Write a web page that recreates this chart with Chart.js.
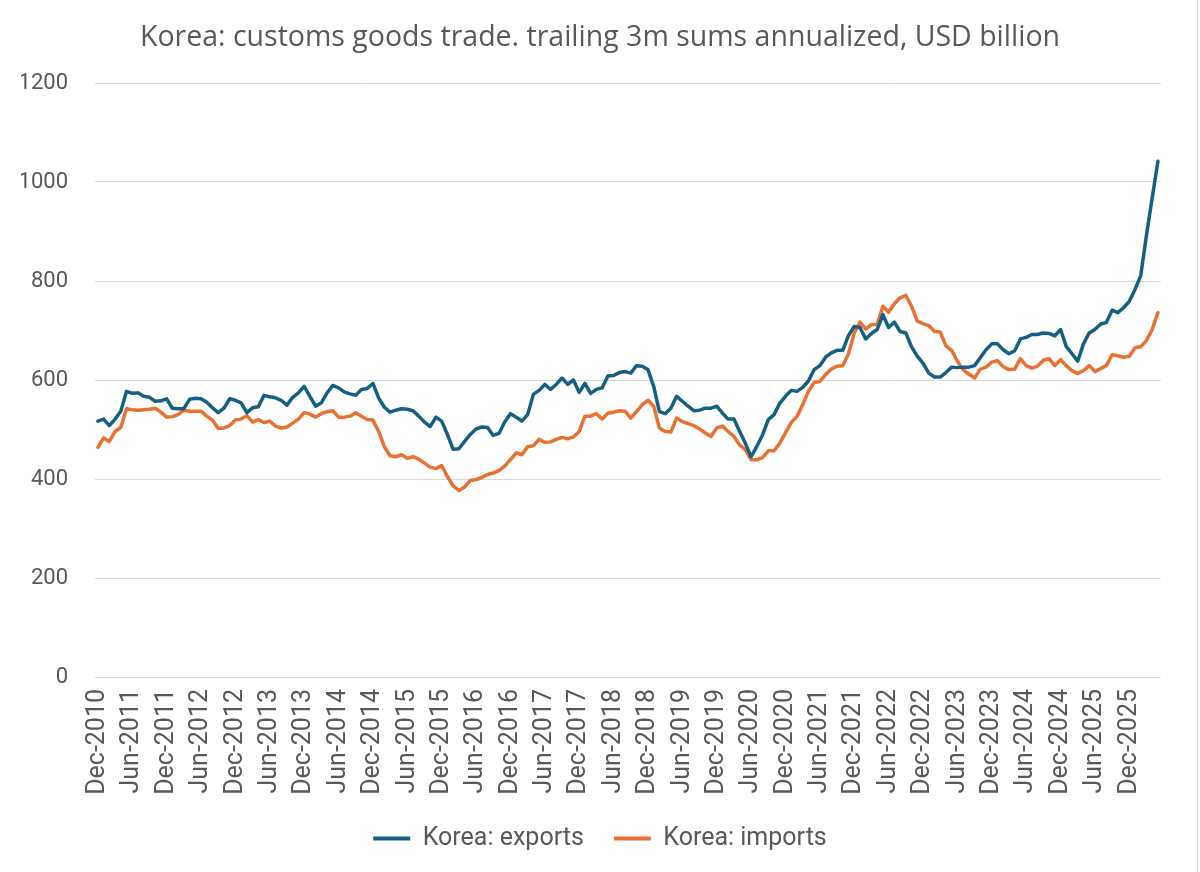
<!DOCTYPE html>
<html><head><meta charset="utf-8">
<script src="https://cdn.jsdelivr.net/npm/chart.js@4"></script>
<style>html,body{margin:0;padding:0;background:#fff;}canvas{display:block;}</style>
</head><body>
<canvas id="c" width="1200" height="872"></canvas>
<script>
const startYear = 2010;
const startMonthIndex = 11; // December
const monthNames = ['Jan','Feb','Mar','Apr','May','Jun','Jul','Aug','Sep','Oct','Nov','Dec'];
const chartTitle = 'Korea: customs goods trade. trailing 3m sums annualized, USD billion';
const seriesNames = ['Korea: exports', 'Korea: imports'];

const exportsValues = [
517,521,508,521,537,577,573,574,567,565,557,558,562,543,542,542,561,563,562,555,
544,534,543,562,559,554,534,544,546,569,566,564,559,549,565,574,587,567,547,554,
574,589,584,576,572,569,581,583,593,564,545,535,539,542,541,538,527,515,506,525,
517,490,460,461,476,490,501,505,504,488,492,515,532,525,517,530,571,579,591,581,
591,604,591,600,575,593,573,581,584,608,609,615,617,614,629,628,621,587,536,532,
543,567,557,547,538,539,543,543,547,533,521,521,496,472,445,466,489,520,530,553,
567,579,577,585,598,621,629,646,655,660,660,690,708,706,683,694,702,732,706,717,
698,695,667,648,634,614,606,606,615,626,625,626,626,629,645,661,673,673,661,653,
659,683,686,692,692,695,694,689,702,668,653,638,673,695,702,713,716,741,736,746,
759,783,811,893,968,1042
];
const importsValues = [
464,483,476,496,504,542,540,539,540,541,543,535,525,526,530,539,537,537,537,527,
519,502,503,508,519,521,528,515,520,514,517,507,503,505,513,521,534,531,525,532,
536,538,525,525,527,534,527,520,519,496,465,447,445,449,442,445,440,432,424,421,
427,405,386,377,384,397,399,403,409,412,417,426,439,453,449,465,467,480,474,475,
480,484,481,485,496,527,527,532,521,533,535,538,537,523,536,550,559,547,503,496,
495,523,516,512,508,501,493,486,503,507,496,486,469,459,439,439,443,457,457,472,
493,514,526,550,577,595,597,611,622,628,629,653,695,717,703,712,712,749,737,754,
766,771,749,719,714,710,698,697,669,660,638,621,612,604,622,626,636,639,627,621,
622,643,629,624,628,640,643,629,641,629,619,613,619,629,617,623,629,651,649,646,
648,665,667,680,702,736
];
const yTickValues = [0, 200, 400, 600, 800, 1000, 1200];
const labelEvery = 6;

const categories = exportsValues.map((_, i) => {
  const k = startMonthIndex + i;
  return monthNames[k % 12] + '-' + (startYear + Math.floor(k / 12));
});

const textColor = '#595959';
const gridColor = '#d9d9d9';

const frame = {
  id: 'frame',
  beforeDraw(chart) {
    const ctx = chart.ctx;
    ctx.save();
    ctx.fillStyle = '#ffffff';
    ctx.fillRect(0, 0, chart.width, chart.height);
    ctx.strokeStyle = gridColor;
    ctx.lineWidth = 1;
    ctx.beginPath();
    ctx.moveTo(1197.5, 0);
    ctx.lineTo(1197.5, chart.height);
    ctx.stroke();
    ctx.restore();
  }
};

new Chart(document.getElementById('c'), {
  type: 'line',
  data: {
    labels: categories,
    datasets: [
      { label: seriesNames[0], data: exportsValues, borderColor: '#156082', backgroundColor: '#156082',
        borderWidth: 3.5, pointRadius: 0, tension: 0, borderJoinStyle: 'round', borderCapStyle: 'round' },
      { label: seriesNames[1], data: importsValues, borderColor: '#E97132', backgroundColor: '#E97132',
        borderWidth: 3.5, pointRadius: 0, tension: 0, borderJoinStyle: 'round', borderCapStyle: 'round' }
    ]
  },
  options: {
    responsive: false,
    animation: false,
    devicePixelRatio: 1,
    layout: { padding: { left: 21, right: 21, top: 0, bottom: 11 } },
    plugins: {
      title: {
        display: true, text: chartTitle, color: textColor,
        font: { family: 'Open Sans', size: 28.5, weight: 'normal', lineHeight: 1.2 },
        padding: { top: 21, bottom: 27.8 }
      },
      legend: {
        display: true, position: 'bottom',
        labels: {
          color: textColor, boxWidth: 37, boxHeight: 4, padding: 30,
          font: { family: 'Roboto', size: 25 },
          generateLabels(chart) {
            const items = Chart.defaults.plugins.legend.labels.generateLabels(chart);
            items.forEach(it => { it.lineWidth = 0; });
            return items;
          }
        }
      },
      tooltip: { enabled: false }
    },
    scales: {
      x: {
        type: 'category', offset: true,
        grid: { display: false, drawTicks: false },
        border: { display: false },
        ticks: {
          autoSkip: false, maxRotation: 90, minRotation: 90, padding: 12,
          color: textColor, font: { family: 'Roboto', size: 25 },
          callback(val, idx) { return idx % labelEvery === 0 ? this.getLabelForValue(val) : ''; }
        },
        afterFit(s) { s.height = 119; }
      },
      y: {
        min: yTickValues[0], max: yTickValues[yTickValues.length - 1],
        afterBuildTicks(s) { s.ticks = yTickValues.map(v => ({ value: v })); },
        grid: { color: gridColor, lineWidth: 1, drawTicks: false },
        border: { display: false },
        ticks: { padding: 27, color: textColor, font: { family: 'Roboto', size: 22 },
          callback(v) { return String(v); } },
        afterFit(s) { s.width = 74; }
      }
    }
  },
  plugins: [frame]
});
</script>
</body></html>
